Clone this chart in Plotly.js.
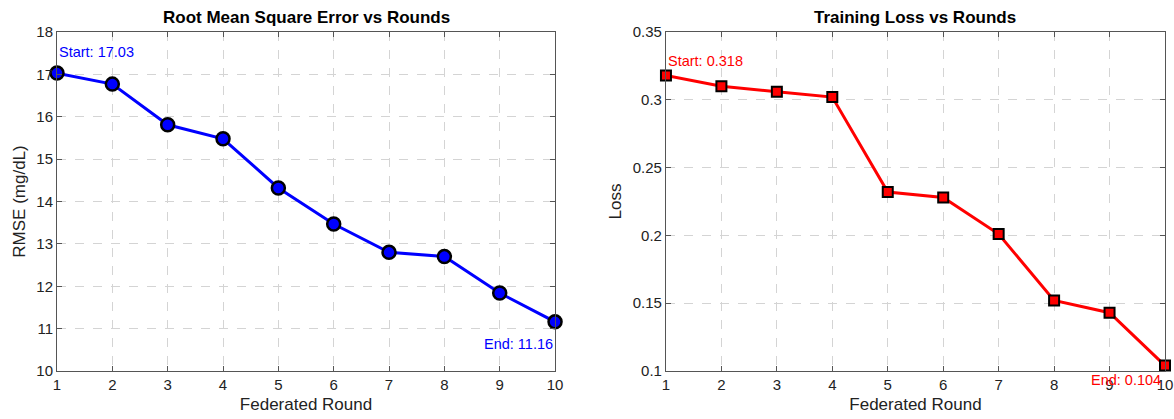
<!DOCTYPE html>
<html><head><meta charset="utf-8">
<script src="https://cdn.plot.ly/plotly-3.0.1.min.js"></script>
<style>html,body{margin:0;padding:0;background:#fff;}#chart{width:1174px;height:419px;}</style>
</head><body><div id="chart"></div>
<script>
const rounds = [1,2,3,4,5,6,7,8,9,10];
const rmse = [17.03,16.77,15.81,15.48,14.32,13.47,12.80,12.70,11.84,11.16];
const loss = [0.318,0.310,0.306,0.302,0.232,0.228,0.201,0.152,0.143,0.104];
const rmseTicks = [10,11,12,13,14,15,16,17,18];
const lossTicks = [0.1,0.15,0.2,0.25,0.3,0.35];
const lossTickText = ['0.1','0.15','0.2','0.25','0.3','0.35'];
const titles = ['Root Mean Square Error vs Rounds','Training Loss vs Rounds'];

const FONT = 'Liberation Sans, Arial, Helvetica, sans-serif';
const traces = [
  {x: rounds, y: rmse, xaxis:'x', yaxis:'y', mode:'lines+markers', cliponaxis:false,
   line:{color:'#0000ff', width:3},
   marker:{symbol:'circle', size:13, color:'#0000ff', line:{color:'#000', width:2.5}}},
  {x: rounds, y: loss, xaxis:'x2', yaxis:'y2', mode:'lines+markers', cliponaxis:false,
   line:{color:'#ff0000', width:3},
   marker:{symbol:'square', size:10, color:'#ff0000', line:{color:'#000', width:2}}}
];
function ax(extra){
  return Object.assign({
    showline:true, mirror:'ticks', linecolor:'#555', linewidth:1,
    ticks:'inside', ticklen:5, tickcolor:'#555',
    showgrid:true, gridcolor:'#d4d4d4', griddash:'dash', gridwidth:1,
    zeroline:false, tickfont:{family:FONT, size:15, color:'#222'}
  }, extra);
}
const n = rmse.length - 1;
const TF = {family:FONT,size:17,color:'#222'};
const layout = {
  width:1174, height:419, showlegend:false,
  paper_bgcolor:'#fff', plot_bgcolor:'#fff',
  margin:{l:57, r:9, t:32, b:48},
  font:{family:FONT},
  xaxis: ax({domain:[0,0.4495], range:[1,10], tickvals:rounds, anchor:'y',
    title:{text:'Federated Round', font:TF, standoff:6}}),
  yaxis: ax({domain:[0,1], range:[10,18], tickvals:rmseTicks, anchor:'x',
    title:{text:'RMSE (mg/dL)', font:TF, standoff:6}}),
  xaxis2: ax({domain:[0.5496,1], range:[1,10], tickvals:rounds, anchor:'y2',
    title:{text:'Federated Round', font:TF, standoff:6}}),
  yaxis2: ax({domain:[0,1], range:[0.1,0.35], tickvals:lossTicks, ticktext:lossTickText, anchor:'x2',
    title:{text:'Loss', font:TF, standoff:6}}),
  annotations:[
    {xref:'x domain', yref:'paper', x:0.5, y:1, yanchor:'bottom', yshift:3, showarrow:false,
     text:'<b>'+titles[0]+'</b>', font:{family:FONT,size:17,color:'#000'}},
    {xref:'x2 domain', yref:'paper', x:0.5, y:1, yanchor:'bottom', yshift:3, showarrow:false,
     text:'<b>'+titles[1]+'</b>', font:{family:FONT,size:17,color:'#000'}},
    {xref:'x', yref:'y', x:rounds[0], y:rmse[0], xanchor:'left', yanchor:'middle', yshift:21, showarrow:false,
     text:'Start: '+rmse[0].toFixed(2), font:{family:FONT,size:14.5,color:'#0000ff'}},
    {xref:'x', yref:'y', x:rounds[n], y:rmse[n], xanchor:'right', yanchor:'middle', yshift:-22, showarrow:false,
     text:'End: '+rmse[n].toFixed(2), font:{family:FONT,size:14.5,color:'#0000ff'}},
    {xref:'x2', yref:'y2', x:rounds[0], y:loss[0], xanchor:'left', yanchor:'middle', yshift:14, showarrow:false,
     text:'Start: '+loss[0].toFixed(3), font:{family:FONT,size:14.5,color:'#ff0000'}},
    {xref:'x2', yref:'y2', x:rounds[n], y:loss[n], xanchor:'right', yanchor:'middle', yshift:-14, xshift:-2, showarrow:false,
     text:'End: '+loss[n].toFixed(3), font:{family:FONT,size:14.5,color:'#ff0000'}}
  ]
};
Plotly.newPlot('chart', traces, layout, {staticPlot:true, displayModeBar:false});
</script></body></html>
